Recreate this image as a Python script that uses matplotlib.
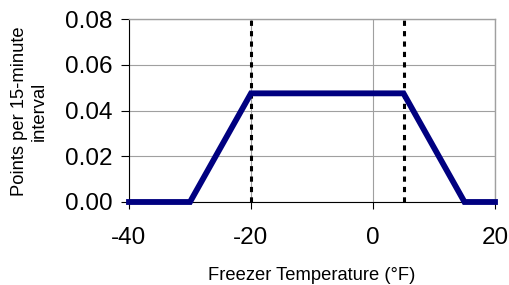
import matplotlib
matplotlib.use("Agg")
import matplotlib.pyplot as plt

# freezer temperature (F) vs points per 15-minute interval
temp_f = [-40, -30, -20, 5, 15, 20]
points = [0.0, 0.0, 0.0475, 0.0475, 0.0, 0.0]
limit_lines = [-20, 5]

x_ticks = [-40, -20, 0, 20]
y_ticks = [0.00, 0.02, 0.04, 0.06, 0.08]

plt.rcParams['font.family'] = ['Liberation Sans', 'DejaVu Sans']

W, H = 510, 285
fig = plt.figure(figsize=(W / 100, H / 100), dpi=100)
ax = fig.add_axes([129 / W, 1 - 202 / H, 366 / W, 183 / H])

ax.set_xlim(-40, 20)
ax.set_ylim(0, 0.08)
ax.set_xticks(x_ticks)
ax.set_yticks(y_ticks)
ax.set_xticklabels([str(t) for t in x_ticks])
ax.set_yticklabels(["%.2f" % t for t in y_ticks])
ax.tick_params(labelsize=17.5, direction='out', width=0.8, color='black')
ax.tick_params(axis='x', length=5, pad=13)
ax.tick_params(axis='y', length=6, pad=6)

ax.grid(True, color='#a0a0a0', linewidth=0.8)
ax.set_axisbelow(True)

for side in ['top', 'right']:
    ax.spines[side].set_color('#a0a0a0')
    ax.spines[side].set_linewidth(1.0)
for side in ['left', 'bottom']:
    ax.spines[side].set_color('black')
    ax.spines[side].set_linewidth(0.8)

for x in limit_lines:
    ax.axvline(x, color='black', linestyle=(0, (1.7, 1.7)), linewidth=2.2, zorder=3)

ax.plot(temp_f, points, color='#000080', linewidth=4.2, solid_joinstyle='miter',
        clip_on=False, zorder=4)

fig.text(312 / W, 1 - 275 / H, "Freezer Temperature (°F)", fontsize=13.2,
         ha='center', va='center')
fig.text(29 / W, 1 - 111 / H, "Points per 15-minute\ninterval", fontsize=13.2,
         rotation=90, ha='center', va='center', multialignment='center',
         linespacing=1.2)

fig.savefig("out.png", dpi=100)
